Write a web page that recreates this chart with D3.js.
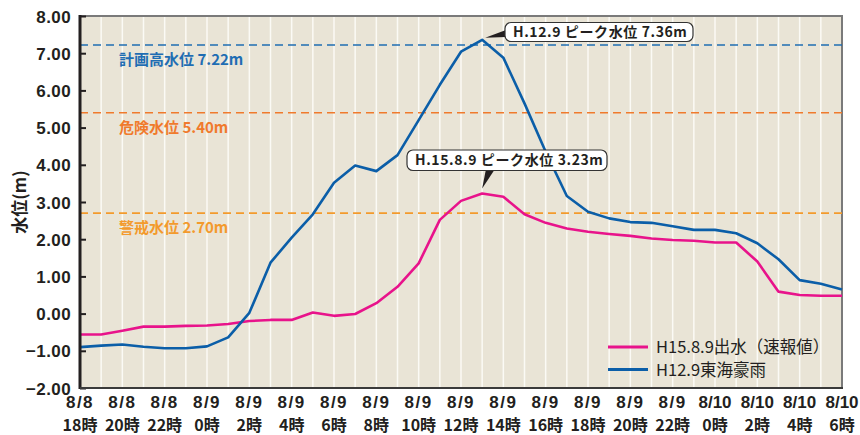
<!DOCTYPE html>
<html>
<head>
<meta charset="utf-8">
<script src="https://cdn.jsdelivr.net/npm/d3@7"></script>
<style>
  body { margin: 0; background: #fff; }
  svg { display: block; }
</style>
</head>
<body>
<svg id="chart" width="860" height="435"></svg>
<script>
// hours from 8/8 18時 (0..36)
var hours = d3.range(0, 37);
var tickDates = ["8/8", "8/8", "8/8", "8/9", "8/9", "8/9", "8/9", "8/9", "8/9",
	"8/9", "8/9", "8/9", "8/9", "8/9", "8/9", "8/10", "8/10", "8/10", "8/10"];
var tickHours = ["18時", "20時", "22時", "0時", "2時", "4時", "6時", "8時", "10時", "12時",
	"14時", "16時", "18時", "20時", "22時", "0時", "2時", "4時", "6時"];
var yTicks = [8, 7, 6, 5, 4, 3, 2, 1, 0, -1, -2];

var h15 = [-0.56, -0.56, -0.46, -0.35, -0.35, -0.33, -0.32, -0.28, -0.20, -0.17,
	-0.17, 0.03, -0.06, -0.01, 0.28, 0.72, 1.35, 2.52, 3.03, 3.23,
	3.14, 2.67, 2.44, 2.29, 2.20, 2.14, 2.09, 2.02, 1.98, 1.96,
	1.91, 1.91, 1.40, 0.59, 0.50, 0.48, 0.48];
var h12 = [-0.90, -0.86, -0.83, -0.89, -0.93, -0.93, -0.88, -0.64, 0.02, 1.37,
	2.04, 2.67, 3.52, 3.98, 3.83, 4.26, 5.20, 6.15, 7.04, 7.36,
	6.88, 5.65, 4.35, 3.16, 2.74, 2.56, 2.46, 2.44, 2.35, 2.25,
	2.25, 2.16, 1.89, 1.46, 0.90, 0.80, 0.65];

var refNames = ["計画高水位 7.22m", "危険水位 5.40m", "警戒水位 2.70m"];
var refValues = [7.22, 5.40, 2.70];
var refColors = ["#1f6db3", "#f07a2c", "#f39a2c"];

var seriesNames = ["H15.8.9出水（速報値）", "H12.9東海豪雨"];
var seriesColors = ["#e8138b", "#0b5ea8"];

function drawChart() {
	var svg = d3.select("#chart");
	var plotL = 80, plotR = 842, plotT = 16, plotB = 388;

	var x = d3.scaleLinear().domain([0, 36]).range([plotL, plotR]);
	var y = d3.scaleLinear().domain([-2, 8]).range([plotB, plotT]);

	var numFont = "'Liberation Sans', Arial, sans-serif";
	var jpFont = "'Noto Sans CJK JP', sans-serif";

	// background
	svg.append("rect")
		.attr("x", plotL)
		.attr("y", plotT)
		.attr("width", plotR - plotL)
		.attr("height", plotB - plotT)
		.style("fill", "#e9e4d6");

	// hourly white grid
	svg.append("g").selectAll("line")
		.data(hours.slice(1, 36))
		.enter().append("line")
		.attr("x1", function (d) { return x(d); })
		.attr("x2", function (d) { return x(d); })
		.attr("y1", plotT)
		.attr("y2", plotB)
		.style("stroke", "#fbfaf5")
		.style("stroke-width", 1.5);

	// frame top and right
	svg.append("path")
		.attr("d", "M" + plotL + "," + plotT + "H" + plotR + "V" + plotB)
		.style("fill", "none")
		.style("stroke", "#7a7a7a")
		.style("stroke-width", 2);

	// reference lines
	refValues.forEach(function (v, i) {
		svg.append("line")
			.attr("x1", plotL)
			.attr("x2", plotR)
			.attr("y1", y(v))
			.attr("y2", y(v))
			.style("stroke", refColors[i])
			.style("stroke-width", 1.6)
			.style("stroke-dasharray", "8,5");

		svg.append("text")
			.attr("x", 119)
			.attr("y", y(v) + 20)
			.style("fill", refColors[i])
			.style("font-family", jpFont)
			.style("font-size", "15px")
			.style("font-weight", "bold")
			.text(refNames[i]);
	});

	// series
	var line = d3.line()
		.x(function (d, i) { return x(hours[i]); })
		.y(function (d) { return y(d); });

	[h15, h12].forEach(function (s, i) {
		svg.append("path")
			.datum(s)
			.attr("d", line)
			.style("fill", "none")
			.style("stroke", seriesColors[i])
			.style("stroke-width", 2.6)
			.style("stroke-linejoin", "round");
	});

	// y axis
	var yAxis = d3.axisLeft(y).tickValues(yTicks).tickSize(-6)
		.tickFormat(d3.format(".2f"));
	var yg = svg.append("g")
		.attr("transform", "translate(" + plotL + ",0)")
		.call(yAxis);
	yg.select(".domain").remove();
	yg.selectAll(".tick line")
		.style("stroke", "#231f20")
		.style("stroke-width", 2);
	yg.selectAll(".tick text")
		.attr("x", -9)
		.attr("dy", "0.36em")
		.style("fill", "#231f20")
		.style("font-family", numFont)
		.style("font-size", "17px")
		.style("font-weight", "bold")
		.style("letter-spacing", "0.4px");

	svg.append("line")
		.attr("x1", plotL)
		.attr("x2", plotL)
		.attr("y1", plotT - 1)
		.attr("y2", plotB + 1)
		.style("stroke", "#231f20")
		.style("stroke-width", 3);

	// bottom axis
	svg.append("line")
		.attr("x1", plotL)
		.attr("x2", plotR + 1)
		.attr("y1", plotB)
		.attr("y2", plotB)
		.style("stroke", "#3a3a3a")
		.style("stroke-width", 2);

	var xg = svg.append("g");
	tickHours.forEach(function (t, i) {
		var tx = x(i * 2);
		xg.append("text")
			.attr("x", tx)
			.attr("y", 408)
			.style("text-anchor", "middle")
			.style("fill", "#231f20")
			.style("font-family", numFont)
			.style("font-size", "17px")
			.style("font-weight", "bold")
			.style("letter-spacing", tickDates[i].length > 3 ? "0px" : "1.5px")
			.text(tickDates[i]);
		xg.append("text")
			.attr("x", tx)
			.attr("y", 431)
			.style("text-anchor", "middle")
			.style("fill", "#231f20")
			.style("font-family", jpFont)
			.style("font-size", "16px")
			.style("font-weight", "bold")
			.text(t);
	});

	// y title
	svg.append("text")
		.attr("transform", "translate(26," + y(3) + ") rotate(-90)")
		.style("text-anchor", "middle")
		.style("fill", "#231f20")
		.style("font-family", jpFont)
		.style("font-size", "17px")
		.style("font-weight", "bold")
		.text("水位(m)");

	// peak callouts
	function callout(bx, by, bw, bh, text, pointer) {
		var g = svg.append("g");
		g.append("path")
			.attr("d", pointer)
			.style("fill", "#231f20");
		g.append("rect")
			.attr("x", bx)
			.attr("y", by)
			.attr("width", bw)
			.attr("height", bh)
			.attr("rx", 6)
			.style("fill", "#fff")
			.style("stroke", "#333")
			.style("stroke-width", 1.2);
		g.append("text")
			.attr("x", bx + 8)
			.attr("y", by + bh / 2 + 5)
			.style("fill", "#231f20")
			.style("font-family", jpFont)
			.style("font-size", "14px")
			.style("font-weight", "bold")
			.style("letter-spacing", "0.6px")
			.text(text);
	}

	var p12x = x(19), p12y = y(7.36);
	callout(505, 22.5, 188, 19, "H.12.9 ピーク水位 7.36m",
		"M" + (p12x + 3) + "," + (p12y - 2) + "L506,30L506,37Z");
	var p15x = x(19), p15y = y(3.23);
	callout(407, 150, 200, 20.5, "H.15.8.9 ピーク水位 3.23m",
		"M" + p15x + "," + (p15y - 5) + "L486,169L495,169Z");

	// legend
	seriesNames.forEach(function (n, i) {
		var ly = 347 + i * 22.5;
		svg.append("line")
			.attr("x1", 608)
			.attr("x2", 648)
			.attr("y1", ly)
			.attr("y2", ly)
			.style("stroke", seriesColors[i])
			.style("stroke-width", 3);
		svg.append("text")
			.attr("x", 656)
			.attr("y", ly + 6)
			.style("fill", "#231f20")
			.style("font-family", jpFont)
			.style("font-size", "16.5px")
			.text(n);
	});
}

drawChart();
</script>
</body>
</html>
